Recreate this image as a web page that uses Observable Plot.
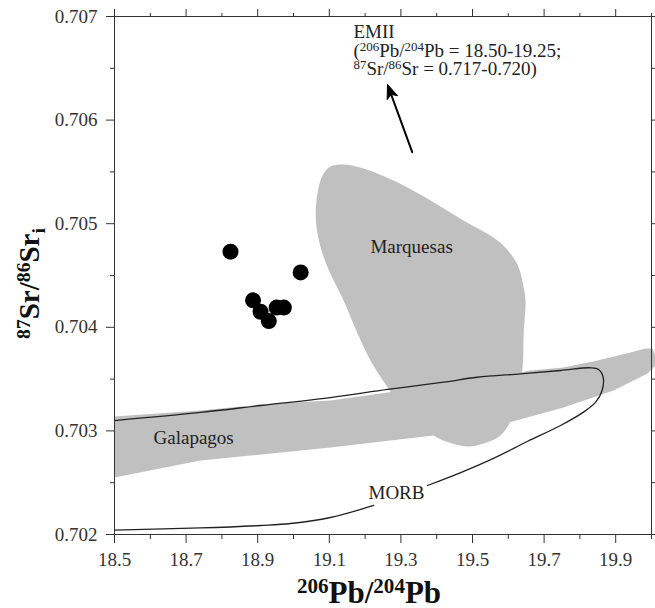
<!DOCTYPE html>
<html><head><meta charset="utf-8">
<script src="https://cdn.jsdelivr.net/npm/d3@7"></script>
<script src="https://cdn.jsdelivr.net/npm/@observablehq/plot@0.6"></script>
<style>body{margin:0;background:#fff} svg{display:block} #chart svg text{font-family:'Liberation Serif','Times New Roman',serif}</style>
</head><body><div id="chart"></div>
<script>
// ---- data ----
const samplePb = [18.824, 19.020, 18.887, 18.908, 18.931, 18.953, 18.973];
const sampleSr = [0.70473, 0.70453, 0.70426, 0.70415, 0.70406, 0.70419, 0.70419];

const marquesasPb = [19.103,19.140,19.196,19.291,19.383,19.475,19.570,19.606,19.629,19.643,19.648,19.643,19.640,19.629,19.620,19.600,19.575,19.531,19.491,19.443,19.391,19.349,19.299,19.263,19.215,19.179,19.140,19.103,19.081,19.067,19.062,19.067,19.081];
const marquesasSr = [0.705552,0.705572,0.705533,0.705398,0.705224,0.705031,0.704838,0.704712,0.704577,0.704384,0.704259,0.703940,0.703612,0.703390,0.703197,0.703052,0.702946,0.702878,0.702850,0.702878,0.702956,0.703081,0.703245,0.703419,0.703680,0.703940,0.704259,0.704519,0.704712,0.704906,0.705099,0.705292,0.705465];

const galapagosPb = [18.500,18.740,18.908,19.103,19.263,19.439,19.662,19.754,19.849,19.941,19.983,20.003,20.011,20.011,19.989,19.894,19.754,19.592,19.391,19.103,18.740,18.500];
const galapagosSr = [0.703139,0.703197,0.703255,0.703294,0.703371,0.703438,0.703583,0.703612,0.703680,0.703757,0.703795,0.703795,0.703728,0.703631,0.703554,0.703390,0.703226,0.703071,0.702956,0.702840,0.702714,0.702550];

const morbUpperPb = [18.500,18.740,18.908,19.103,19.263,19.419,19.513,19.634,19.746,19.830,19.852,19.865,19.862,19.844,19.810,19.746,19.653,19.560,19.467,19.374];
const morbUpperSr = [0.703100,0.703178,0.703245,0.703322,0.703400,0.703470,0.703518,0.703551,0.703583,0.703609,0.703593,0.703518,0.703390,0.703277,0.703181,0.703052,0.702898,0.702738,0.702598,0.702473];
const morbLowerPb = [19.224,19.103,18.992,18.908,18.740,18.500];
const morbLowerSr = [0.702280,0.702164,0.702106,0.702087,0.702063,0.702043];

const xMajor = [18.5,18.7,18.9,19.1,19.3,19.5,19.7,19.9];
const xMinor = [18.6,18.8,19.0,19.2,19.4,19.6,19.8,20.0];
const yMajor = [0.702,0.703,0.704,0.705,0.706,0.707];
const yMinor = [0.7025,0.7035,0.7045,0.7055,0.7065];

const regionLabels = ["Marquesas","Galapagos","MORB"];
const regionLabelPb = [19.215, 18.609, 19.2095];
const regionLabelSr = [0.704722, 0.702878, 0.702338];

const emiiLines = ["EMII", "(^206^Pb/^204^Pb = 18.50-19.25;", "^87^Sr/^86^Sr = 0.717-0.720)"];
const emiiPb = 19.1676, emiiSr = 0.706788;
const arrowFrom = [19.3316, 0.705690], arrowTo = [19.2626, 0.706344];

const xTitle = "^206^Pb/^204^Pb";
const yTitle = "^87^Sr/^86^Sr_i_";

// ---- build tables ----
const pts = (a, b) => a.map((v, i) => ({pb: v, sr: b[i]}));
const samples = pts(samplePb, sampleSr);
const marquesas = pts(marquesasPb, marquesasSr);
const galapagos = pts(galapagosPb, galapagosSr);
const morbA = pts(morbUpperPb, morbUpperSr);
const morbB = pts(morbLowerPb, morbLowerSr);
const labels = regionLabels.map((t, i) => ({t, pb: regionLabelPb[i], sr: regionLabelSr[i]}));

const W = 655, H = 608, mt = 16, mr = 4, mb = 74, ml = 114;
const xDomain = [18.5, 20], yDomain = [0.702, 0.707];
const sx = Plot.scale({x: {domain: xDomain, range: [ml, W - mr]}});
const sy = Plot.scale({y: {domain: yDomain, range: [H - mb, mt]}});
const adx = sx.apply(arrowTo[0]) - sx.apply(arrowFrom[0]);
const ady = sy.apply(arrowTo[1]) - sy.apply(arrowFrom[1]);
const arrowAngle = Math.atan2(adx, -ady) * 180 / Math.PI;

const headShape = {
  draw(ctx, l) {
    ctx.moveTo(0, -l);
    ctx.lineTo(-5.5, 0);
    ctx.lineTo(0, -3.5);
    ctx.lineTo(5.5, 0);
    ctx.closePath();
  }
};

const serif = "'Liberation Serif', 'Times New Roman', serif";
const gray = "#c0c0c0";
const blank = () => "";

const plot = Plot.plot({
  width: W, height: H,
  marginTop: mt, marginRight: mr, marginBottom: mb, marginLeft: ml,
  x: {domain: xDomain, label: null},
  y: {domain: yDomain, label: null},
  style: {fontFamily: serif, color: "#333", background: "white"},
  marks: [
    Plot.line(marquesas, {x: "pb", y: "sr", curve: "catmull-rom-closed", fill: gray, stroke: "none"}),
    Plot.line(galapagos, {x: "pb", y: "sr", curve: "linear-closed", fill: gray, stroke: "none"}),
    Plot.line(morbA, {x: "pb", y: "sr", curve: "catmull-rom", stroke: "#222", strokeWidth: 1.3}),
    Plot.line(morbB, {x: "pb", y: "sr", curve: "catmull-rom", stroke: "#222", strokeWidth: 1.3}),
    Plot.dot(samples, {x: "pb", y: "sr", r: 8, fill: "black", stroke: "none"}),
    Plot.text(labels, {x: "pb", y: "sr", text: "t", textAnchor: "start", lineAnchor: "bottom", fontSize: 19, fontFamily: serif, fill: "#222"}),
    ...emiiLines.map((t, i) => Plot.text([{t}], {x: () => emiiPb, y: () => emiiSr, text: "t", textAnchor: "start", lineAnchor: "bottom", fontSize: 19, fontFamily: serif, fill: "#222", dy: i * 18.5})),
    Plot.arrow([{x1: arrowFrom[0], y1: arrowFrom[1], x2: arrowTo[0], y2: arrowTo[1]}], {x1: "x1", y1: "y1", x2: "x2", y2: "y2", headLength: 0, strokeWidth: 2, stroke: "black", insetEnd: 6}),
    Plot.vector([{x: arrowTo[0], y: arrowTo[1]}], {x: "x", y: "y", anchor: "end", length: 14, rotate: arrowAngle, shape: headShape, fill: "black", stroke: "black", strokeWidth: 1}),
    Plot.axisX({ticks: xMajor, anchor: "bottom", tickSize: 9, tickPadding: 9, tickFormat: d3.format(".1f"), fontSize: 19, fontFamily: serif, label: null, fill: "#333"}),
    Plot.axisX({ticks: xMinor, anchor: "bottom", tickSize: 5, tickFormat: blank, label: null}),
    Plot.axisX({ticks: xMajor, anchor: "top", tickSize: 8, tickFormat: blank, label: null}),
    Plot.axisX({ticks: xMinor, anchor: "top", tickSize: 4, tickFormat: blank, label: null}),
    Plot.axisY({ticks: yMajor, anchor: "left", tickSize: 8, tickPadding: 9, tickFormat: d3.format(".3f"), fontSize: 19, fontFamily: serif, label: null, fill: "#333"}),
    Plot.axisY({ticks: yMinor, anchor: "left", tickSize: 4, tickFormat: blank, label: null}),
    Plot.axisY({ticks: yMajor, anchor: "right", tickSize: 8, tickFormat: blank, label: null}),
    Plot.axisY({ticks: yMinor, anchor: "right", tickSize: 4, tickFormat: blank, label: null}),
    Plot.frame({stroke: "#333"}),
    Plot.text([xTitle], {frameAnchor: "bottom", textAnchor: "middle", lineAnchor: "bottom", dx: -14, dy: 68, fontSize: 31, fontWeight: "bold", fontFamily: serif, fill: "#111"}),
    Plot.text([yTitle], {frameAnchor: "left", textAnchor: "middle", lineAnchor: "middle", rotate: -90, dx: -85, dy: 8, fontSize: 29, fontWeight: "bold", fontFamily: serif, fill: "#111"})
  ]
});

document.getElementById("chart").append(plot);

// rich text: ^sup^ and _sub_
function richify(el) {
  const s = el.textContent;
  if (!/[\^_]/.test(s)) return;
  const base = parseFloat(getComputedStyle(el).fontSize) || 19;
  const sel = d3.select(el);
  sel.text(null);
  const parts = s.split(/(\^[^\^]*\^|_[^_]*_)/).filter(p => p);
  let shift = 0;
  for (const p of parts) {
    let t = p, size = base, off = 0;
    if (p[0] === "^") { t = p.slice(1, -1); size = base * 0.68; off = -base * 0.32; }
    else if (p[0] === "_") { t = p.slice(1, -1); size = base * 0.68; off = base * 0.2; }
    sel.append("tspan").attr("font-size", size).attr("dy", off - shift).text(t);
    shift = off;
  }
}
d3.select(plot).selectAll("text").each(function() { richify(this); });
</script>
</body></html>
